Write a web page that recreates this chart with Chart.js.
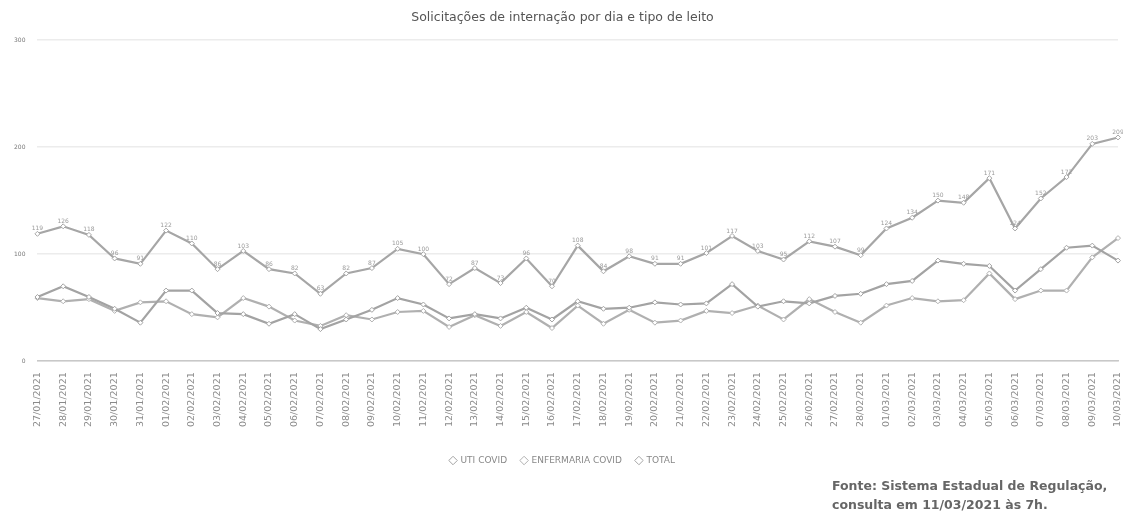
<!DOCTYPE html>
<html lang="pt-BR">
<head>
<meta charset="utf-8">
<title>Solicitações de internação por dia e tipo de leito</title>
<script src="https://cdn.jsdelivr.net/npm/chart.js@4.4.1/dist/chart.umd.min.js"></script>
<style>
  html, body { margin: 0; padding: 0; background: #fff; }
  #wrap { position: relative; width: 1123px; height: 519px; }
  #source {
    position: absolute; left: 832px; top: 476px;
    font-family: "DejaVu Sans", sans-serif; font-weight: bold;
    font-size: 12.5px; line-height: 19px; color: #666;
  }
</style>
</head>
<body>
<div id="wrap">
  <canvas id="chart" width="1123" height="519"></canvas>
  <div id="source">Fonte: Sistema Estadual de Regulação,<br>consulta em 11/03/2021 às 7h.</div>
</div>
<script>
const dates = [
  '27/01/2021','28/01/2021','29/01/2021','30/01/2021','31/01/2021',
  '01/02/2021','02/02/2021','03/02/2021','04/02/2021','05/02/2021','06/02/2021','07/02/2021',
  '08/02/2021','09/02/2021','10/02/2021','11/02/2021','12/02/2021','13/02/2021','14/02/2021',
  '15/02/2021','16/02/2021','17/02/2021','18/02/2021','19/02/2021','20/02/2021','21/02/2021',
  '22/02/2021','23/02/2021','24/02/2021','25/02/2021','26/02/2021','27/02/2021','28/02/2021',
  '01/03/2021','02/03/2021','03/03/2021','04/03/2021','05/03/2021','06/03/2021','07/03/2021',
  '08/03/2021','09/03/2021','10/03/2021'
];
const utiCovid = [60,70,60,49,36,66,66,45,44,35,44,30,39,48,59,53,40,44,40,50,39,56,49,50,55,53,54,72,51,56,54,61,63,72,75,94,91,89,66,86,106,108,94];
const enfermariaCovid = [59,56,58,47,55,56,44,41,59,51,38,33,43,39,46,47,32,43,33,46,31,52,35,48,36,38,47,45,52,39,58,46,36,52,59,56,57,82,58,66,66,97,115];
const total = [119,126,118,96,91,122,110,86,103,86,82,63,82,87,105,100,72,87,73,96,70,108,84,98,91,91,101,117,103,95,112,107,99,124,134,150,148,171,124,152,172,203,209];
const yTicks = [0, 100, 200, 300];

// small value labels over the TOTAL line
const valueLabels = {
  id: 'valueLabels',
  afterDatasetsDraw(chart) {
    const ctx = chart.ctx;
    const meta = chart.getDatasetMeta(2);
    ctx.save();
    ctx.font = '6px "DejaVu Sans"';
    ctx.fillStyle = '#9a9a9a';
    ctx.textAlign = 'center';
    meta.data.forEach((pt, i) => {
      ctx.fillText(total[i], pt.x, pt.y - 5);
    });
    ctx.restore();
  }
};

const lineStyle = (label, data, color) => ({
  label, data,
  borderColor: color, backgroundColor: color,
  borderWidth: 2.2, pointStyle: 'rectRot', pointRadius: 2.5,
  pointBackgroundColor: '#fff', pointBorderColor: color, pointBorderWidth: 1,
  tension: 0
});

new Chart(document.getElementById('chart'), {
  type: 'line',
  data: {
    labels: dates,
    datasets: [
      lineStyle('UTI COVID', utiCovid, '#a3a3a3'),
      lineStyle('ENFERMARIA COVID', enfermariaCovid, '#b0b0b0'),
      lineStyle('TOTAL', total, '#a6a6a6')
    ]
  },
  options: {
    responsive: false,
    animation: false,
    layout: { padding: { left: 2, right: 0, top: 4, bottom: 44 } },
    scales: {
      x: {
        offset: false,
        grid: { display: false },
        border: { color: '#c8c8c8', width: 1.5 },
        afterFit: axis => { axis.height += 12; axis.paddingRight = 4; },
        ticks: {
          autoSkip: false, maxRotation: 90, minRotation: 90,
          font: { family: 'DejaVu Sans', size: 9.5 }, color: '#8a8a8a'
        }
      },
      y: {
        min: 0, max: 300,
        afterBuildTicks: axis => { axis.ticks = yTicks.map(v => ({ value: v })); },
        grid: { color: '#ececec', lineWidth: 1.5, drawTicks: false },
        border: { display: false },
        ticks: { font: { family: 'DejaVu Sans', size: 6 }, color: '#777', padding: 12 }
      }
    },
    plugins: {
      title: {
        display: true,
        text: 'Solicitações de internação por dia e tipo de leito',
        font: { family: 'DejaVu Sans', size: 12.5, weight: 'normal' },
        color: '#555',
        padding: { top: 6, bottom: 15 }
      },
      legend: {
        position: 'bottom',
        labels: {
          usePointStyle: true, pointStyle: 'rectRot', boxWidth: 6, boxHeight: 6,
          font: { family: 'DejaVu Sans', size: 9 }, color: '#888', padding: 14
        }
      },
      tooltip: { enabled: false }
    }
  },
  plugins: [valueLabels]
});
</script>
</body>
</html>
